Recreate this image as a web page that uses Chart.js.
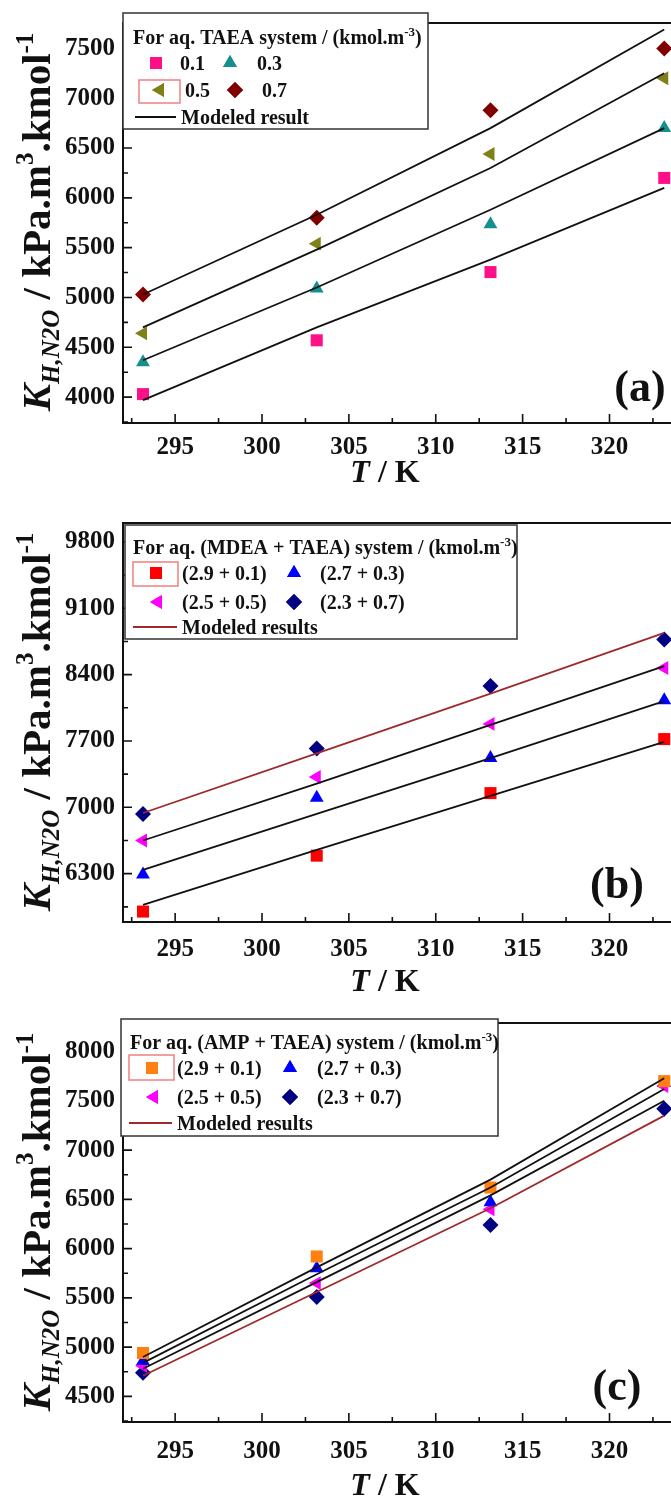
<!DOCTYPE html>
<html>
<head>
<meta charset="utf-8">
<script src="https://cdn.jsdelivr.net/npm/chart.js@4.4.0/dist/chart.umd.min.js"></script>
<style>
  html, body { margin: 0; padding: 0; background: #fff; overflow: hidden; width: 671px; height: 1501px; }
  .panel { position: absolute; left: 0; width: 700px; }
</style>
</head>
<body>
<div class="panel" style="top:0;height:495px"><canvas id="chartA"></canvas></div>
<div class="panel" style="top:500px;height:500px"><canvas id="chartB"></canvas></div>
<div class="panel" style="top:1000px;height:501px"><canvas id="chartC"></canvas></div>
<script>
var FONT = '"Liberation Serif", "Times New Roman", serif';

// temperatures (K) and x ticks shared by all three panels
var temps = [293.15, 303.15, 313.15, 323.15];
var xTicks = [295, 300, 305, 310, 315, 320];

// (a) aq. TAEA
var labelsA = ['0.1', '0.3', '0.5', '0.7'];
var expA01 = [4030, 4570, 5255, 6200];
var expA03 = [4350, 5090, 5735, 6700];
var expA05 = [4640, 5540, 6440, 7200];
var expA07 = [5030, 5800, 6880, 7500];
var modA01 = [3970, 4700, 5380, 6100];
var modA03 = [4370, 5100, 5880, 6700];
var modA05 = [4700, 5480, 6300, 7250];
var modA07 = [5030, 5830, 6700, 7690];
var yTicksA = [4000, 4500, 5000, 5500, 6000, 6500, 7000, 7500];

// (b) aq. MDEA + TAEA
var labelsB = ['(2.9 + 0.1)', '(2.7 + 0.3)', '(2.5 + 0.5)', '(2.3 + 0.7)'];
var expB1 = [5900, 6490, 7150, 7720];
var expB2 = [6290, 7100, 7520, 8130];
var expB3 = [6650, 7320, 7880, 8470];
var expB4 = [6930, 7620, 8280, 8770];
var modB1 = [5970, 6550, 7120, 7690];
var modB2 = [6340, 6930, 7520, 8120];
var modB3 = [6650, 7250, 7870, 8490];
var modB4 = [6940, 7570, 8200, 8840];
var yTicksB = [6300, 7000, 7700, 8400, 9100, 9800];

// (c) aq. AMP + TAEA
var labelsC = ['(2.9 + 0.1)', '(2.7 + 0.3)', '(2.5 + 0.5)', '(2.3 + 0.7)'];
var expC1 = [4940, 5920, 6620, 7700];
var expC2 = [4860, 5800, 6470, 7680];
var expC3 = [4810, 5650, 6400, 7650];
var expC4 = [4740, 5510, 6240, 7420];
var modC1 = [4900, 5810, 6700, 7730];
var modC2 = [4840, 5740, 6620, 7620];
var modC3 = [4780, 5660, 6540, 7500];
var modC4 = [4710, 5560, 6410, 7350];
var yTicksC = [4500, 5000, 5500, 6000, 6500, 7000, 7500, 8000];

function pts(vals) {
  return temps.map(function (t, i) { return { x: t, y: vals[i] }; });
}

function markerSet(label, vals, style, rot, color, r) {
  return { label: label, data: pts(vals), showLine: false, pointStyle: style, pointRotation: rot,
           pointRadius: r, pointHoverRadius: r, backgroundColor: color, borderColor: color,
           pointBorderWidth: 0, order: 2 };
}

function modelSet(vals, color) {
  return { label: 'model', data: pts(vals), showLine: true, pointRadius: 0, borderColor: color,
           borderWidth: 1.8, tension: 0, fill: false, order: 1 };
}

// draw a run of text pieces: [text, size, italic, dy]
function drawRich(ctx, parts, x, y, align) {
  var total = 0;
  parts.forEach(function (p) {
    ctx.font = (p[2] ? 'italic ' : '') + 'bold ' + p[1] + 'px ' + FONT;
    p.w = ctx.measureText(p[0]).width;
    total += p.w;
  });
  var cx = align === 'center' ? x - total / 2 : x;
  ctx.textAlign = 'left';
  ctx.textBaseline = 'alphabetic';
  parts.forEach(function (p) {
    ctx.font = (p[2] ? 'italic ' : '') + 'bold ' + p[1] + 'px ' + FONT;
    ctx.fillText(p[0], cx, y + (p[3] || 0));
    cx += p.w;
  });
}

var yTitleParts = [['K', 41, true, 0], ['H,N2O', 25, true, 9], [' / kPa.m', 41, false, 0],
                   ['3', 25, false, -17], ['.kmol', 41, false, 0], ['-1', 25, false, -17]];

var panelDeco = {
  id: 'panelDeco',
  afterDraw: function (chart, args, o) {
    var ctx = chart.ctx, a = chart.chartArea;
    var xs = chart.scales.x, ys = chart.scales.y;
    ctx.save();
    ctx.strokeStyle = '#111';
    ctx.lineWidth = 2;
    ctx.strokeRect(a.left, a.top, a.right - a.left, a.bottom - a.top);

    // inward major and minor ticks
    ctx.lineWidth = 1.6;
    ctx.beginPath();
    var xStep = xTicks[1] - xTicks[0];
    for (var v = xTicks[0] - xStep / 2; v <= xs.max; v += xStep / 2) {
      if (v < xs.min) continue;
      var px = xs.getPixelForValue(v);
      var len = Math.abs((v - xTicks[0]) % xStep) < 1e-6 ? 9 : 5;
      ctx.moveTo(px, a.bottom); ctx.lineTo(px, a.bottom - len);
    }
    var yt = o.yTicks, yStep = yt[1] - yt[0];
    for (var w = yt[0] - yStep / 2; w <= ys.max; w += yStep / 2) {
      if (w < ys.min) continue;
      var py = ys.getPixelForValue(w);
      var l2 = Math.abs((w - yt[0]) % yStep) < 1e-6 ? 9 : 5;
      ctx.moveTo(a.left, py); ctx.lineTo(a.left + l2, py);
    }
    ctx.stroke();

    ctx.fillStyle = '#111';
    // axis titles
    drawRich(ctx, [['T', 32, true, 0], [' / K', 32, false, 0]], 385, o.xTitleY, 'center');
    ctx.save();
    ctx.translate(50, o.yTitleY);
    ctx.rotate(-Math.PI / 2);
    drawRich(ctx, yTitleParts, 0, 0, 'center');
    ctx.restore();

    // panel letter
    drawRich(ctx, [[o.letter, 44, false, 0]], o.letterPos[0], o.letterPos[1], 'center');

    // legend
    var lg = o.legend;
    ctx.fillStyle = '#fff';
    ctx.fillRect(lg.box[0], lg.box[1], lg.box[2] - lg.box[0], lg.box[3] - lg.box[1]);
    ctx.strokeStyle = '#333';
    ctx.lineWidth = 1.5;
    ctx.strokeRect(lg.box[0], lg.box[1], lg.box[2] - lg.box[0], lg.box[3] - lg.box[1]);
    ctx.strokeStyle = '#f08080';
    ctx.lineWidth = 1.5;
    ctx.strokeRect(lg.sel[0], lg.sel[1], lg.sel[2] - lg.sel[0], lg.sel[3] - lg.sel[1]);
    ctx.fillStyle = '#111';
    drawRich(ctx, [[lg.title, 20, false, 0], ['-3', 13, false, -8], [')', 20, false, 0]],
             lg.titleX, lg.titleY, 'left');
    lg.items.forEach(function (it) {
      var ds = chart.data.datasets[it[0]];
      ctx.fillStyle = ds.backgroundColor;
      Chart.helpers.drawPoint(ctx, { pointStyle: ds.pointStyle, rotation: ds.pointRotation,
                                      radius: ds.pointRadius, borderWidth: 0 }, it[1], it[3]);
      ctx.fill();
      ctx.fillStyle = '#111';
      drawRich(ctx, [[ds.label, 20, false, 0]], it[2], it[3] + 7, 'left');
    });
    ctx.strokeStyle = lg.lineColor;
    ctx.lineWidth = 2;
    ctx.beginPath();
    ctx.moveTo(lg.line[0], lg.line[2]); ctx.lineTo(lg.line[1], lg.line[2]);
    ctx.stroke();
    ctx.fillStyle = '#111';
    drawRich(ctx, [[lg.lineText, 20, false, 0]], lg.line[1] + 5, lg.line[2] + 7, 'left');
    ctx.restore();
  }
};

function makeChart(id, datasets, yMin, yMax, yTicks, top, xHeight, tickPad, deco) {
  deco.yTicks = yTicks;
  return new Chart(document.getElementById(id), {
    type: 'scatter',
    data: { datasets: datasets },
    options: {
      responsive: true,
      maintainAspectRatio: false,
      animation: false,
      layout: { padding: { top: top, right: 21, left: 0, bottom: 0 } },
      plugins: { legend: { display: false }, tooltip: { enabled: false }, panelDeco: deco },
      scales: {
        x: {
          type: 'linear', min: 292, max: 324,
          afterBuildTicks: function (s) { s.ticks = xTicks.map(function (v) { return { value: v }; }); },
          afterFit: function (s) { s.height = xHeight; },
          grid: { display: false, drawTicks: false },
          border: { display: false },
          ticks: { autoSkip: false, maxRotation: 0, padding: tickPad, color: '#111',
                   callback: function (v) { return String(v); },
                   font: { family: FONT, size: 25, weight: 'bold' } }
        },
        y: {
          type: 'linear', min: yMin, max: yMax,
          afterBuildTicks: function (s) { s.ticks = yTicks.map(function (v) { return { value: v }; }); },
          afterFit: function (s) { s.width = 123; },
          grid: { display: false, drawTicks: false },
          border: { display: false },
          ticks: { autoSkip: false, padding: 8, color: '#111',
                   callback: function (v) { return String(v); },
                   font: { family: FONT, size: 25, weight: 'bold' } }
        }
      }
    },
    plugins: [panelDeco]
  });
}

makeChart('chartA', [
  markerSet(labelsA[0], expA01, 'rect', 0, '#ff1088', 8.5),
  markerSet(labelsA[1], expA03, 'triangle', 0, '#16908c', 8),
  markerSet(labelsA[2], expA05, 'triangle', -90, '#808018', 8),
  markerSet(labelsA[3], expA07, 'rectRot', 0, '#800000', 8),
  modelSet(modA01, '#111'), modelSet(modA03, '#111'), modelSet(modA05, '#111'), modelSet(modA07, '#111')
], 3740, 7755, yTicksA, 13, 72, 10, {
  letter: '(a)', letterPos: [640, 401], xTitleY: 482, yTitleY: 222,
  legend: {
    box: [123, 13, 428, 129], sel: [139, 80, 180, 103],
    title: 'For aq. TAEA system / (kmol.m', titleX: 133, titleY: 44,
    items: [[0, 156, 180, 63], [1, 230, 257, 63], [2, 160, 185, 90], [3, 235, 262, 90]],
    line: [135, 176, 117], lineColor: '#111', lineText: 'Modeled result'
  }
});

makeChart('chartB', [
  markerSet(labelsB[0], expB1, 'rect', 0, '#ff0000', 8.5),
  markerSet(labelsB[1], expB2, 'triangle', 0, '#0000ff', 8),
  markerSet(labelsB[2], expB3, 'triangle', -90, '#ff00ff', 8),
  markerSet(labelsB[3], expB4, 'rectRot', 0, '#000080', 8),
  modelSet(modB1, '#111'), modelSet(modB2, '#111'), modelSet(modB3, '#111'), modelSet(modB4, '#9e2a2b')
], 5790, 10000, yTicksB, 20, 78, 13, {
  letter: '(b)', letterPos: [617, 398], xTitleY: 491, yTitleY: 222,
  legend: {
    box: [125, 25, 517, 139], sel: [133, 62, 178, 86],
    title: 'For aq. (MDEA + TAEA) system / (kmol.m', titleX: 133, titleY: 54,
    items: [[0, 156, 182, 73], [1, 294, 320, 73], [2, 158, 182, 102], [3, 294, 320, 102]],
    line: [133, 177, 127], lineColor: '#9e2a2b', lineText: 'Modeled results'
  }
});

makeChart('chartC', [
  markerSet(labelsC[0], expC1, 'rect', 0, '#ff8010', 8.5),
  markerSet(labelsC[1], expC2, 'triangle', 0, '#0000ff', 8),
  markerSet(labelsC[2], expC3, 'triangle', -90, '#ff00ff', 8),
  markerSet(labelsC[3], expC4, 'rectRot', 0, '#000080', 8),
  modelSet(modC1, '#111'), modelSet(modC2, '#111'), modelSet(modC3, '#111'), modelSet(modC4, '#9e2a2b')
], 4240, 8290, yTicksC, 19, 79, 15, {
  letter: '(c)', letterPos: [617, 400], xTitleY: 495, yTitleY: 222,
  legend: {
    box: [121, 19, 498, 136], sel: [129, 55, 174, 80],
    title: 'For aq. (AMP + TAEA) system / (kmol.m', titleX: 130, titleY: 49,
    items: [[0, 152, 177, 68], [1, 290, 317, 68], [2, 154, 177, 97], [3, 290, 317, 97]],
    line: [129, 172, 123], lineColor: '#9e2a2b', lineText: 'Modeled results'
  }
});
</script>
</body>
</html>
